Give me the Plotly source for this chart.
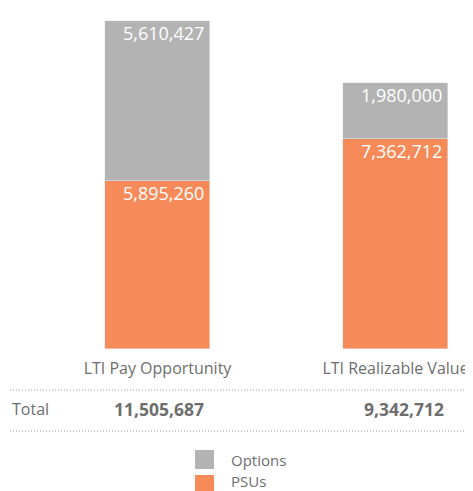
import plotly.graph_objects as go

categories = ["LTI Pay Opportunity", "LTI Realizable Value"]
psus = [5895260, 7362712]
options = [5610427, 1980000]
totals = [p + o for p, o in zip(psus, options)]
series_names = ["Options", "PSUs"]

GRAY = "#b3b3b3"
ORANGE = "#f68b59"
TEXT = "#6e6e6e"
FONT = "Open Sans"

OFF = 8  # page body margin offset
W, H = 473, 491 - OFF
TOP, BOTTOM = 5, 341  # plot area pixel bounds (figure coords)


def px(x):
    return (x - OFF) / W


def py(y):
    return (BOTTOM - (y - OFF)) / (BOTTOM - TOP)


fig = go.Figure()
fig.add_trace(go.Bar(x=categories, y=psus, name="PSUs", marker_color=ORANGE,
                     width=0.441, showlegend=False, hoverinfo="skip"))
fig.add_trace(go.Bar(x=categories, y=options, name="Options", marker_color=GRAY,
                     width=0.441, showlegend=False, hoverinfo="skip"))

annotations = []
# value labels inside bars, right aligned at top of each segment
for i, c in enumerate(categories):
    for top, val in [(psus[i], psus[i]), (psus[i] + options[i], options[i])]:
        annotations.append(dict(
            x=c, y=top, xref="x", yref="y", text=f"{val:,}", showarrow=False,
            xanchor="right", yanchor="top", xshift=48, yshift=2,
            font=dict(family=FONT, size=18, color="white")))

# totals row
annotations.append(dict(x=px(10), y=py(409), xref="paper", yref="paper", text="Total",
                        showarrow=False, xanchor="left", yanchor="middle",
                        font=dict(family=FONT, size=16, color=TEXT)))
for i, c in enumerate(categories):
    annotations.append(dict(x=c, y=py(409), xref="x", yref="paper",
                            text=f"<b>{totals[i]:,}</b>", showarrow=False,
                            xanchor="center", yanchor="middle", xshift=[1, 8][i],
                            font=dict(family=FONT, size=17.5, color=TEXT)))

# legend
shapes = []
leg = [(series_names[0], GRAY, 450, 469, 460), (series_names[1], ORANGE, 475, 494, 481)]
for name, col, y0, y1, yt in leg:
    shapes.append(dict(type="rect", xref="paper", yref="paper",
                       x0=px(195), x1=px(214), y0=py(y1), y1=py(y0),
                       fillcolor=col, line=dict(width=0)))
    annotations.append(dict(x=px(229), y=py(yt), xref="paper",
                            yref="paper", text=name, showarrow=False, xanchor="left",
                            yanchor="middle",
                            font=dict(family=FONT, size=15, color=TEXT)))

# dotted separators
for yy in [390, 431]:
    shapes.append(dict(type="line", xref="paper", yref="paper",
                       x0=px(10), x1=1.0, y0=py(yy), y1=py(yy),
                       line=dict(color="#9a9a9a", width=1, dash="1px,2px")))

r0 = -(157.5 - OFF) / 238
fig.update_layout(
    barmode="stack",
    width=W, height=H,
    margin=dict(l=0, r=0, t=TOP, b=H - BOTTOM, pad=0),
    plot_bgcolor="white", paper_bgcolor="white",
    annotations=annotations, shapes=shapes,
    xaxis=dict(range=[r0, r0 + W / 238], showgrid=False, zeroline=False,
               showline=False, ticks="", ticklabelstandoff=8,
               tickfont=dict(family=FONT, size=16, color=TEXT)),
    yaxis=dict(range=[0, 11800000], visible=False, showgrid=False, zeroline=False),
    bargap=0,
)

fig.write_html("out.html")
